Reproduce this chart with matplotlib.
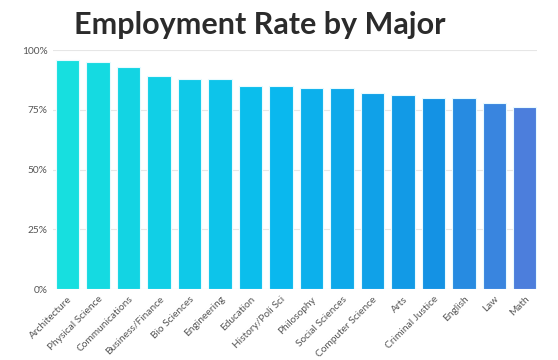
import matplotlib
matplotlib.use("Agg")
import matplotlib.pyplot as plt
import matplotlib.transforms as mtransforms
from matplotlib.colors import LinearSegmentedColormap
from matplotlib.ticker import FuncFormatter
import numpy as np

majors = ["Architecture", "Physical Science", "Communications", "Business/Finance",
          "Bio Sciences", "Engineering", "Education", "History/Poli Sci",
          "Philosophy", "Social Sciences", "Computer Science", "Arts",
          "Criminal Justice", "English", "Law", "Math"]
rates = [96, 95, 93, 89, 88, 88, 85, 85, 84, 84, 82, 81, 80, 80, 78, 76]
yticks = [0, 25, 50, 75, 100]

cmap = LinearSegmentedColormap.from_list(
    "blues", [(0.0, "#17dfdf"), (0.45, "#0abaee"), (0.8, "#1492e4"), (1.0, "#4c7edc")])
colors = [cmap(i / (len(majors) - 1)) for i in range(len(majors))]

fig = plt.figure(figsize=(5.58, 3.6), dpi=100)
ax = fig.add_axes([0.095, 0.197, 0.867, 0.664])

x = np.arange(len(majors))
ax.bar(x, rates, width=0.76, color=colors, edgecolor="#e8fbff", linewidth=0.8, zorder=3)

ax.set_ylim(0, 100)
ax.set_xlim(-0.475, len(majors) - 0.61)
ax.set_yticks(yticks)
ax.yaxis.set_major_formatter(FuncFormatter(lambda v, p: f"{int(v)}%"))
ax.grid(axis="y", color="#e6e6e6", linewidth=0.8, zorder=0)
ax.set_xticks(x)
ax.set_xticklabels(majors, rotation=45, ha="right", rotation_mode="anchor",
                   fontsize=7.3, color="#555555", family="Lato")
shift = mtransforms.ScaledTranslation(6 / 72, 0, fig.dpi_scale_trans)
for lbl in ax.get_xticklabels():
    lbl.set_transform(lbl.get_transform() + shift)
for lbl in ax.get_yticklabels():
    lbl.set_fontsize(7.3)
    lbl.set_color("#555555")
    lbl.set_family("Lato")
ax.tick_params(length=0, pad=4)
for s in ax.spines.values():
    s.set_visible(False)

fig.text(0.466, 0.93, "Employment Rate by Major", ha="center", va="center",
         fontsize=22, fontweight="bold", color="#2b2b2b", family="Lato")

fig.savefig("out.png", dpi=100, facecolor="white")
